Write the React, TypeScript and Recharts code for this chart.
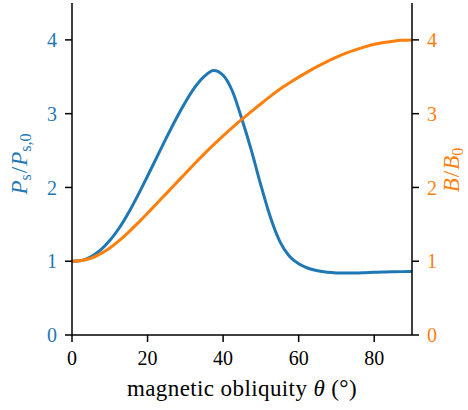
import React from 'react';
import { LineChart, Line, XAxis, YAxis } from 'recharts';

const theta = [0, 2.5, 5, 7.5, 10, 12.5, 15, 17.5, 20, 22.5, 25, 27.5, 30, 32.5, 35, 37.5, 40, 42.5, 45, 47.5, 50, 52.5, 55, 57.5, 60, 62.5, 65, 67.5, 70, 72.5, 75, 77.5, 80, 82.5, 85, 87.5, 90];
const psRatio = [1.0, 1.01, 1.06, 1.15, 1.28, 1.45, 1.66, 1.9, 2.155, 2.415, 2.675, 2.925, 3.155, 3.355, 3.505, 3.585, 3.52, 3.3, 2.92, 2.5, 2.03, 1.6, 1.27, 1.07, 0.965, 0.905, 0.87, 0.85, 0.842, 0.84, 0.841, 0.845, 0.85, 0.854, 0.857, 0.859, 0.86];
const bRatio = [1.0, 1.01, 1.04, 1.1, 1.18, 1.28, 1.395, 1.52, 1.65, 1.785, 1.92, 2.055, 2.19, 2.325, 2.455, 2.58, 2.7, 2.815, 2.925, 3.03, 3.135, 3.235, 3.33, 3.415, 3.495, 3.57, 3.64, 3.705, 3.765, 3.82, 3.865, 3.905, 3.94, 3.965, 3.983, 3.995, 4.0];
const xTicks = [0, 20, 40, 60, 80];
const yTicks = [0, 1, 2, 3, 4];

const data = theta.map((t, i) => ({ theta: t, ps: psRatio[i], b: bRatio[i] }));

const BLUE = '#1f77b4';
const ORANGE = '#ff7f0e';
const FONT = 'Liberation Serif';

const LeftLabel = (props: any) => {
  const vb = props.viewBox || { x: 0, y: 3, width: 72, height: 332 };
  const cx = vb.x + 27;
  const cy = vb.y + vb.height / 2 - 5;
  return (
    <text transform={`translate(${cx},${cy}) rotate(-90)`} textAnchor="middle" fill={BLUE} style={{ fontFamily: FONT }} fontSize={23}>
      <tspan fontStyle="italic">P</tspan>
      <tspan fontSize={16} dy={4}>s</tspan>
      <tspan dy={-4} dx={1}>/</tspan>
      <tspan fontStyle="italic" dx={1}>P</tspan>
      <tspan fontSize={16} dy={4}>s,0</tspan>
    </text>
  );
};

const RightLabel = (props: any) => {
  const vb = props.viewBox || { x: 412, y: 3, width: 56, height: 332 };
  const cx = vb.x + 47;
  const cy = vb.y + vb.height / 2 + 1;
  return (
    <text transform={`translate(${cx},${cy}) rotate(-90)`} textAnchor="middle" fill={ORANGE} style={{ fontFamily: FONT }} fontSize={23}>
      <tspan fontStyle="italic">B</tspan>
      <tspan dx={1}>/</tspan>
      <tspan fontStyle="italic" dx={1}>B</tspan>
      <tspan fontSize={16} dy={4}>0</tspan>
    </text>
  );
};

const BottomLabel = (props: any) => {
  const vb = props.viewBox || { x: 72, y: 335, width: 340, height: 75 };
  const cx = vb.x + vb.width / 2;
  return (
    <text x={cx} y={396} textAnchor="middle" fill="#000" style={{ fontFamily: FONT }} fontSize={23} letterSpacing={0.4}>
      <tspan>magnetic obliquity </tspan>
      <tspan fontStyle="italic">θ</tspan>
      <tspan> (°)</tspan>
    </text>
  );
};

export default function App() {
  return (
    <div style={{ position: 'absolute', left: 0, top: 0, background: '#fff', fontFamily: FONT }}>
      <LineChart width={468} height={410} data={data} margin={{ top: 3, right: 0, left: 0, bottom: 0 }} style={{ fontFamily: FONT }}>
        <XAxis
          dataKey="theta"
          type="number"
          domain={[0, 90]}
          ticks={xTicks}
          height={75}
          axisLine={{ stroke: '#000', strokeWidth: 1.5 }}
          tickLine={{ stroke: '#000', strokeWidth: 1.5 }}
          tickSize={7}
          tickMargin={9}
          tick={{ fill: '#000', fontSize: 20, style: { fontFamily: FONT } }}
          label={{ content: BottomLabel }}
        />
        <XAxis
          xAxisId="top"
          orientation="top"
          dataKey="theta"
          type="number"
          domain={[0, 90]}
          height={0}
          tick={false}
          tickLine={false}
          axisLine={{ stroke: '#000', strokeWidth: 1.5 }}
        />
        <YAxis
          yAxisId="left"
          orientation="left"
          domain={[0, 4.5]}
          ticks={yTicks}
          width={72}
          axisLine={{ stroke: '#000', strokeWidth: 1.5 }}
          tickLine={{ stroke: '#000', strokeWidth: 1.5 }}
          tickSize={7}
          tickMargin={8}
          tick={{ fill: BLUE, fontSize: 20, style: { fontFamily: FONT } }}
          label={{ content: LeftLabel }}
        />
        <YAxis
          yAxisId="right"
          orientation="right"
          domain={[0, 4.5]}
          ticks={yTicks}
          width={56}
          axisLine={{ stroke: '#000', strokeWidth: 1.5 }}
          tickLine={{ stroke: '#000', strokeWidth: 1.5 }}
          tickSize={7}
          tickMargin={8}
          tick={{ fill: ORANGE, fontSize: 20, style: { fontFamily: FONT } }}
          label={{ content: RightLabel }}
        />
        <Line yAxisId="left" type="monotone" dataKey="ps" stroke={BLUE} strokeWidth={3} dot={false} isAnimationActive={false} />
        <Line yAxisId="right" type="monotone" dataKey="b" stroke={ORANGE} strokeWidth={3} dot={false} isAnimationActive={false} />
      </LineChart>
    </div>
  );
}
